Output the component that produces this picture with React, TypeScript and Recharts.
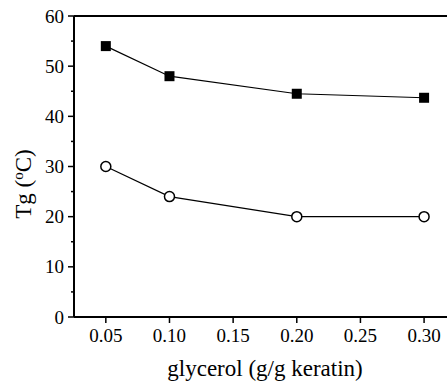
import { LineChart, Line, XAxis, YAxis, ReferenceLine } from 'recharts';

const glycerol = [0.05, 0.1, 0.2, 0.3];
const tgFilled = [54, 48, 44.5, 43.7];
const tgOpen = [30, 24, 20, 20];
const xTicks = [0.05, 0.075, 0.1, 0.125, 0.15, 0.175, 0.2, 0.225, 0.25, 0.275, 0.3];
const xMajor = ['0.05', '0.10', '0.15', '0.20', '0.25', '0.30'];
const yTicks = [0, 5, 10, 15, 20, 25, 30, 35, 40, 45, 50, 55, 60];

const data = glycerol.map((g, i) => ({ g, filled: tgFilled[i], open: tgOpen[i] }));

const serif = { fontFamily: 'Liberation Serif' };

const XTick = ({ x, y, payload }: any) => {
    const label = xMajor.find((l) => Math.abs(parseFloat(l) - payload.value) < 1e-6);
    return (
        <g>
            <line x1={x} x2={x} y1={y} y2={y + (label ? 6 : 3)} stroke="#000" strokeWidth={1.5} />
            {label && (
                <text x={x} y={y + 25} textAnchor="middle" fontSize={19} style={serif} fill="#000">
                    {label}
                </text>
            )}
        </g>
    );
};

const YTick = ({ x, y, payload }: any) => {
    const major = payload.value % 10 === 0;
    return (
        <g>
            <line x1={x} x2={x - (major ? 6 : 3)} y1={y} y2={y} stroke="#000" strokeWidth={1.5} />
            {major && (
                <text x={x - 10} y={y + 6.5} textAnchor="end" fontSize={19} style={serif} fill="#000">
                    {payload.value}
                </text>
            )}
        </g>
    );
};

const Square = ({ cx, cy }: any) => (
    <rect x={cx - 5} y={cy - 5} width={10} height={10} fill="#000" />
);

const Circle = ({ cx, cy }: any) => (
    <circle cx={cx} cy={cy} r={5} fill="#fff" stroke="#000" strokeWidth={1.5} />
);

export default function App() {
    return (
        <div style={{ position: 'absolute', left: 0, top: 0, background: '#fff', fontFamily: 'Liberation Serif' }}>
            <LineChart width={447} height={381} data={data} margin={{ top: 16, right: 0, left: 0, bottom: 0 }}>
                <XAxis
                    dataKey="g"
                    type="number"
                    domain={[0.025, 0.318]}
                    ticks={xTicks}
                    tick={<XTick />}
                    tickSize={0}
                    tickMargin={0}
                    tickLine={false}
                    height={64}
                    stroke="#000"
                    strokeWidth={2}
                    label={{
                        content: () => (
                            <text x={265} y={376} textAnchor="middle" fontSize={23} style={serif} fill="#000">
                                glycerol (g/g keratin)
                            </text>
                        ),
                    }}
                />
                <YAxis
                    type="number"
                    domain={[0, 60]}
                    ticks={yTicks}
                    tick={<YTick />}
                    tickSize={0}
                    tickMargin={0}
                    tickLine={false}
                    width={74}
                    stroke="#000"
                    strokeWidth={2}
                    label={{
                        content: () => (
                            <text
                                transform="translate(31,184) rotate(-90)"
                                textAnchor="middle"
                                fontSize={23}
                                style={serif}
                                fill="#000"
                            >
                                Tg (<tspan dy={-8} fontSize={15}>o</tspan><tspan dy={8}>C)</tspan>
                            </text>
                        ),
                    }}
                />
                <ReferenceLine y={60} stroke="#000" strokeWidth={2} />
                <Line
                    dataKey="filled"
                    stroke="#000"
                    strokeWidth={1.2}
                    dot={<Square />}
                    activeDot={false}
                    isAnimationActive={false}
                />
                <Line
                    dataKey="open"
                    stroke="#000"
                    strokeWidth={1.2}
                    dot={<Circle />}
                    activeDot={false}
                    isAnimationActive={false}
                />
            </LineChart>
        </div>
    );
}
